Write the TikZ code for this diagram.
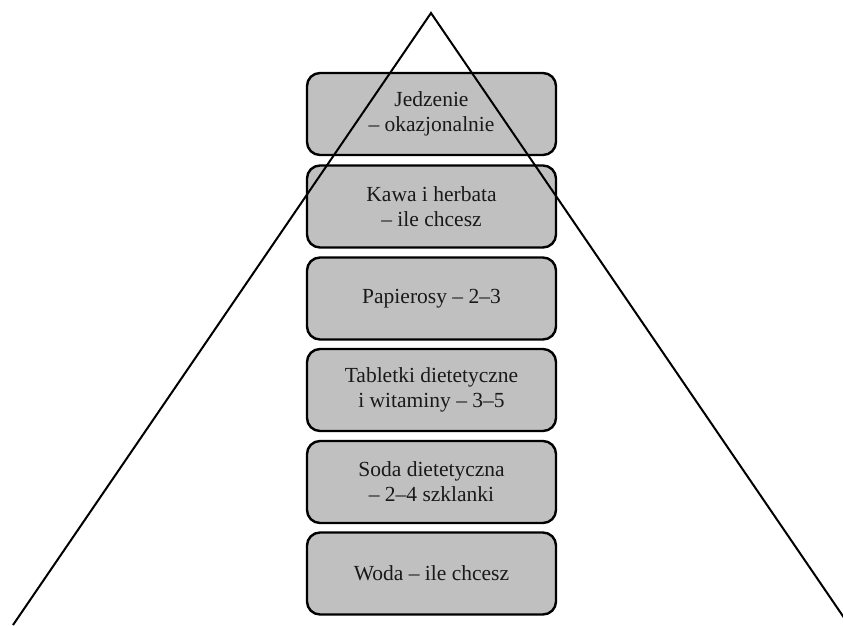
\documentclass[tikz,border=0pt]{standalone}
\usepackage{fontspec}
\setmainfont{Liberation Serif}
\definecolor{boxgray}{HTML}{C0C0C0}
\tikzset{
  level/.style={draw=black, line width=2.4pt, fill=boxgray, rounded corners=13pt,
    minimum width=249pt, minimum height=82pt, align=center, inner sep=0pt,
    font=\fontsize{21.5}{25}\selectfont, text=black!90},
  side/.style={draw=black, line width=2pt}
}
\begin{document}
\begin{tikzpicture}[x=1pt,y=-1pt]
\useasboundingbox (0,0) rectangle (843,625);
\node[level] (b1) at (431.5,114) {Jedzenie\\– okazjonalnie};
\node[level] (b2) at (431.5,206.5) {Kawa i herbata\\– ile chcesz};
\node[level] (b3) at (431.5,298.5) {Papierosy – 2–3};
\node[level] (b4) at (431.5,390) {Tabletki dietetyczne\\i witaminy – 3–5};
\node[level] (b5) at (431.5,482) {Soda dietetyczna\\– 2–4 szklanki};
\node[level] (b6) at (431.5,573.5) {Woda – ile chcesz};
\coordinate (apex) at (431,13);
\coordinate (bl) at (13,625);
\coordinate (br) at (849,625);
\draw[side] (bl) -- (apex) -- (br);
\end{tikzpicture}
\end{document}
